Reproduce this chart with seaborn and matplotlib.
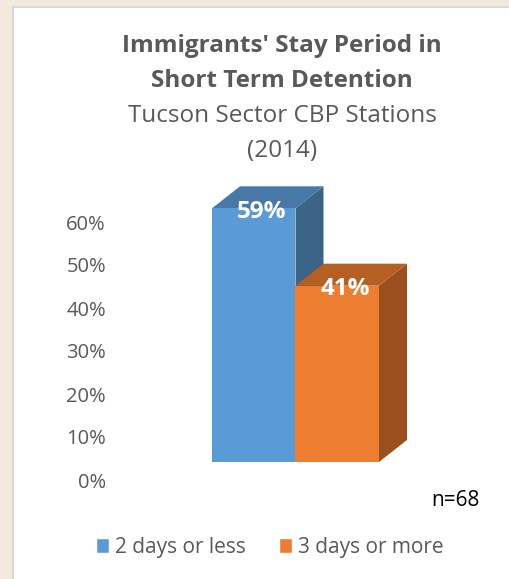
import matplotlib.pyplot as plt
import matplotlib.transforms as mtransforms
from matplotlib.patches import Polygon, Rectangle
import seaborn as sns
import pandas as pd

categories = ["2 days or less", "3 days or more"]
shares = [59, 41]
tick_values = [0, 10, 20, 30, 40, 50, 60]
tick_labels = ["0%", "10%", "20%", "30%", "40%", "50%", "60%"]

front_colors = ["#5b9bd5", "#ed7d31"]
top_colors = ["#4878a8", "#b55f22"]
side_colors = ["#3c6489", "#9a4f1c"]
grey = "#595959"

sns.set_theme(style="white")
plt.rcParams["font.family"] = ["Open Sans", "DejaVu Sans"]

W, H = 510, 579
fig = plt.figure(figsize=(W / 100, H / 100), dpi=100)
fig.patch.set_facecolor("#f3e9df")

# white chart panel with thin grey border (drawn behind everything)
panel = Rectangle((13 / W, -0.01), 1, 1.01 - 7 / H, transform=fig.transFigure,
                  facecolor="white", edgecolor="#d9d9d9", linewidth=1.5, zorder=-10)
fig.patches.append(panel)

# axes placed so that 1 x-unit = 83.5 px and 1% = 4.3 px, baseline at y=462px
px_unit = 83.5
px_pct = 4.3
ax_left, ax_right = 100, 460
base_y = 462
top_y = base_y - 70 * px_pct
ax = fig.add_axes([ax_left / W, (H - base_y) / H, (ax_right - ax_left) / W, (base_y - top_y) / H])
ax.patch.set_alpha(0)
x_lo = -0.5 - (212 - ax_left) / px_unit
x_hi = x_lo + (ax_right - ax_left) / px_unit

df = pd.DataFrame({"cat": categories, "share": shares})
sns.barplot(data=df, x="cat", y="share", hue="cat", palette=front_colors,
            width=1.0, ax=ax, legend=False, saturation=1, edgecolor="none", zorder=3)
ax.set_xlim(x_lo, x_hi)
ax.set_ylim(0, 70)

# fake 3D: top and side faces
dx = 28 / px_unit
dy = 22 / px_pct
for i, bar in enumerate(list(ax.patches)):
    x0 = bar.get_x()
    x1 = x0 + bar.get_width()
    h = bar.get_height()
    top = Polygon([(x0, h), (x0 + dx, h + dy), (x1 + dx, h + dy), (x1, h)],
                  closed=True, facecolor=top_colors[i], edgecolor="none", zorder=2, clip_on=False)
    side = Polygon([(x1, 0), (x1 + dx, dy), (x1 + dx, h + dy), (x1, h)],
                   closed=True, facecolor=side_colors[i], edgecolor="none", zorder=1 + i, clip_on=False)
    ax.add_patch(side)
    ax.add_patch(top)
    ax.text(x0 + bar.get_width() / 2 + 0.1, h - 0.8, f"{shares[i]}%", ha="center", va="center",
            color="white", fontsize=17.5, fontweight="bold", zorder=5)

sns.despine(ax=ax, left=True, bottom=True)
ax.set_xlabel("")
ax.set_ylabel("")
ax.set_xticks([])
ax.set_yticks(tick_values)
ax.set_yticklabels(tick_labels, color=grey, fontsize=14.5)
ax.tick_params(axis="y", length=0, pad=-4.3)
# labels sit ~18px below the front baseline (Excel puts them on the back wall)
for lab in ax.get_yticklabels():
    lab.set_transform(lab.get_transform() + mtransforms.ScaledTranslation(0, -18 / 100, fig.dpi_scale_trans))

# titles
fig.text(282 / W, 1 - 46 / H, "Immigrants' Stay Period in", ha="center", va="center",
         fontsize=17.5, fontweight="bold", color=grey)
fig.text(282 / W, 1 - 81 / H, "Short Term Detention", ha="center", va="center",
         fontsize=17.5, fontweight="bold", color=grey)
fig.text(282 / W, 1 - 116 / H, "Tucson Sector CBP Stations", ha="center", va="center",
         fontsize=17.5, color=grey)
fig.text(282 / W, 1 - 151 / H, "(2014)", ha="center", va="center",
         fontsize=17.5, color=grey)

fig.text(480 / W, 1 - 500 / H, "n=68", ha="right", va="center", fontsize=15, color="black")

handles = [Rectangle((0, 0), 1, 1, facecolor=c) for c in front_colors]
fig.legend(handles, categories, loc="center", bbox_to_anchor=(270 / W, 1 - 547 / H),
           ncol=2, frameon=False, fontsize=15, labelcolor=grey, handlelength=0.6,
           handleheight=0.75, handletextpad=0.3, columnspacing=1.6)

fig.savefig("out.png", dpi=100)
